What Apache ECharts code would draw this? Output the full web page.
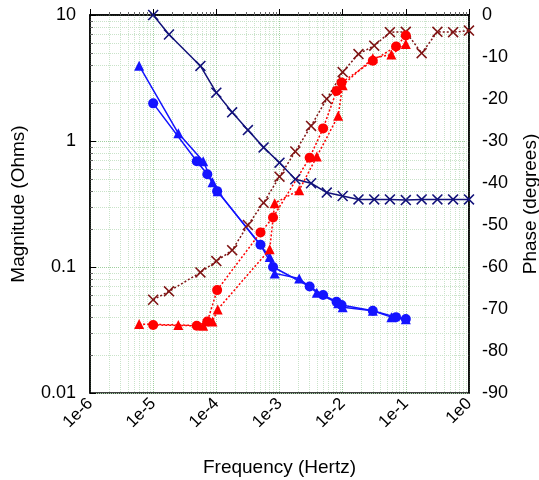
<!DOCTYPE html>
<html>
<head>
<meta charset="utf-8">
<script src="https://cdn.jsdelivr.net/npm/echarts@6/dist/echarts.min.js"></script>
<style>
  html, body { margin: 0; padding: 0; background: #fff; }
  #chart { width: 539px; height: 480px; }
</style>
</head>
<body>
<div id="chart"></div>
<script>
// frequency (Hz) for each measured set
var freqCross = [1e-5, 1.78e-5, 5.6e-5, 1e-4, 1.78e-4, 3.16e-4, 5.6e-4, 1e-3, 1.78e-3, 3.16e-3,
  5.6e-3, 1e-2, 1.78e-2, 3.16e-2, 5.6e-2, 0.1, 0.178, 0.316, 0.56, 1]
var freqCircle = [1e-5, 4.9e-5, 7.2e-5, 1.03e-4, 5e-4, 7.9e-4, 3e-3, 4.9e-3, 8e-3, 9.6e-3, 3e-2, 7e-2, 0.1]
var freqTri = [6e-6, 2.5e-5, 6.2e-5, 8.7e-5, 1.05e-4, 7e-4, 8.4e-4, 2.05e-3, 3.9e-3, 8.5e-3, 1e-2, 3e-2, 5.9e-2, 0.1]

// magnitude (Ohms)
var magCross = [10, 7.0, 3.94, 2.42, 1.69, 1.22, 0.89, 0.673, 0.497, 0.462,
  0.39, 0.366, 0.344, 0.344, 0.344, 0.34, 0.344, 0.344, 0.344, 0.344]
var magCircle = [1.99, 0.69, 0.544, 0.40, 0.15, 0.100, 0.070, 0.060, 0.053, 0.050, 0.045, 0.040, 0.0387]
var magTri = [3.96, 1.15, 0.69, 0.47, 0.40, 0.12, 0.089, 0.081, 0.0625, 0.0516, 0.048, 0.045, 0.040, 0.0385]

// phase (degrees)
var phaseCross = [-67.8, -65.8, -61.3, -58.6, -56, -50, -44.7, -38.5, -32.5, -26.4,
  -20, -13.6, -9.3, -7.3, -4.1, -4.0, -9.1, -4.0, -4.1, -3.7]
var phaseCircle = [-73.8, -74, -73, -65.5, -51.8, -48.2, -34, -27, -18.1, -16.1, -10.9, -7.5, -4.9]
var phaseTri = [-73.6, -73.8, -74, -73, -70.1, -55.8, -44.8, -41.7, -33.7, -24, -16.7, -10.3, -9.4, -6.9]

var font = 'Liberation Sans, Arial, Helvetica, sans-serif'
var crossPath = 'path://M0,1L1,0L5,4L9,0L10,1L6,5L10,9L9,10L5,6L1,10L0,9L4,5Z'

function pairs(xs, ys) {
  return xs.map(function (x, i) { return [x, ys[i]] })
}

var chart = echarts.init(document.getElementById('chart'))

var option = {
  animation: false,
  grid: {
    left: 90,
    right: 70,
    top: 15,
    bottom: 87,
    outerBoundsMode: 'none',
    show: true,
    borderColor: '#000',
    borderWidth: 1.5,
    backgroundColor: 'transparent'
  },
  xAxis: {
    type: 'log',
    logBase: 10,
    min: 1e-6,
    max: 1,
    name: 'Frequency (Hertz)',
    nameLocation: 'middle',
    nameGap: 65,
    nameTextStyle: { color: '#000', fontSize: 19, fontFamily: font },
    axisLine: { lineStyle: { color: '#000', width: 1.5 } },
    axisTick: { inside: true, length: 6, lineStyle: { color: '#000' } },
    minorTick: { show: true, splitNumber: 9, length: 3, lineStyle: { color: '#666' } },
    axisLabel: {
      rotate: 45,
      margin: 8,
      color: '#000',
      fontSize: 17,
      fontFamily: font,
      formatter: function (v) { return '1e' + Math.round(Math.log10(v)) }
    },
    splitLine: { show: true, lineStyle: { color: '#9fcf9f', type: 'dotted', width: 1 } },
    minorSplitLine: { show: true, lineStyle: { color: '#c9e3c9', type: 'dotted', width: 1 } }
  },
  yAxis: [
    {
      type: 'log',
      logBase: 10,
      min: 0.01,
      max: 10,
      name: 'Magnitude (Ohms)',
      nameLocation: 'middle',
      nameGap: 62,
      nameTextStyle: { color: '#000', fontSize: 19, fontFamily: font },
      axisLine: { show: true, lineStyle: { color: '#000', width: 1.5 } },
      axisTick: { inside: true, length: 6, lineStyle: { color: '#000' } },
      minorTick: { show: true, splitNumber: 9, length: 3, lineStyle: { color: '#666' } },
      axisLabel: { margin: 14, color: '#000', fontSize: 18, fontFamily: font },
      splitLine: { show: true, lineStyle: { color: '#9fcf9f', type: 'dotted', width: 1 } },
      minorSplitLine: { show: true, lineStyle: { color: '#c9e3c9', type: 'dotted', width: 1 } }
    },
    {
      type: 'value',
      min: -90,
      max: 0,
      interval: 10,
      position: 'right',
      name: 'Phase (degrees)',
      nameLocation: 'middle',
      nameGap: 52,
      nameTextStyle: { color: '#000', fontSize: 19, fontFamily: font },
      axisLine: { show: true, lineStyle: { color: '#000', width: 1.5 } },
      axisTick: { show: false },
      axisLabel: { margin: 13, color: '#000', fontSize: 18, fontFamily: font },
      splitLine: { show: false }
    }
  ],
  series: [
    {
      name: 'mag-cross',
      type: 'line',
      yAxisIndex: 0,
      data: pairs(freqCross, magCross),
      symbol: crossPath,
      symbolSize: 11,
      itemStyle: { color: '#12127a' },
      lineStyle: { color: '#12127a', width: 1.5 }
    },
    {
      name: 'mag-circle',
      type: 'line',
      yAxisIndex: 0,
      data: pairs(freqCircle, magCircle),
      symbol: 'circle',
      symbolSize: 10,
      itemStyle: { color: '#1414ff' },
      lineStyle: { color: '#1414ff', width: 1.5 }
    },
    {
      name: 'mag-tri',
      type: 'line',
      yAxisIndex: 0,
      data: pairs(freqTri, magTri),
      symbol: 'triangle',
      symbolSize: 10,
      itemStyle: { color: '#1414ff' },
      lineStyle: { color: '#1414ff', width: 1.5 }
    },
    {
      name: 'phase-cross',
      type: 'line',
      yAxisIndex: 1,
      data: pairs(freqCross, phaseCross),
      symbol: crossPath,
      symbolSize: 11,
      itemStyle: { color: '#7f1414' },
      lineStyle: { color: '#7f1414', width: 1.5, type: [2, 2] }
    },
    {
      name: 'phase-circle',
      type: 'line',
      yAxisIndex: 1,
      data: pairs(freqCircle, phaseCircle),
      symbol: 'circle',
      symbolSize: 10,
      itemStyle: { color: '#ff0000' },
      lineStyle: { color: '#ff0000', width: 1.5, type: [2, 2] }
    },
    {
      name: 'phase-tri',
      type: 'line',
      yAxisIndex: 1,
      data: pairs(freqTri, phaseTri),
      symbol: 'triangle',
      symbolSize: 10,
      itemStyle: { color: '#ff0000' },
      lineStyle: { color: '#ff0000', width: 1.5, type: [2, 2] }
    }
  ]
}

chart.setOption(option)
</script>
</body>
</html>
